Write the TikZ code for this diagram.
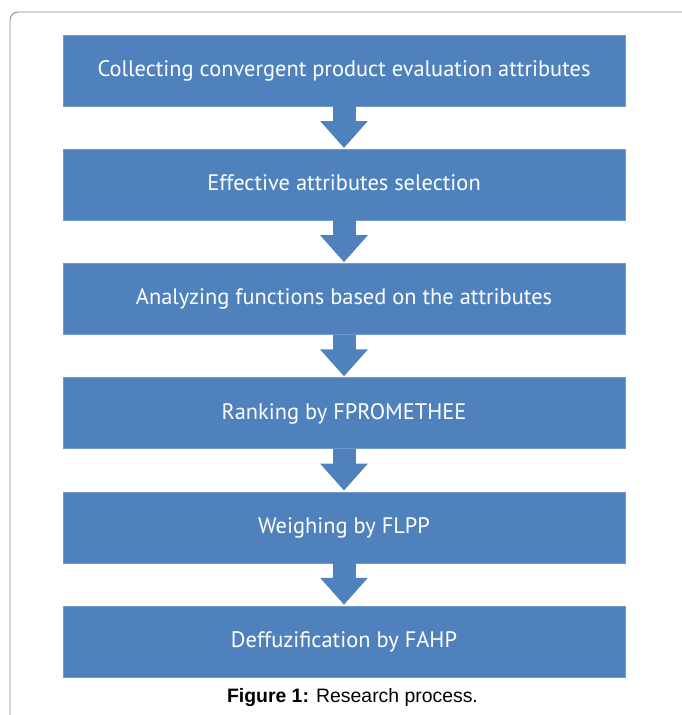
\documentclass[tikz,border=0pt]{standalone}
\usepackage{fontspec}
\setmainfont{Liberation Sans}
\newfontfamily\boxfont{PT Sans}
\usetikzlibrary{positioning,arrows.meta}
\definecolor{stepblue}{HTML}{4F81BD}
\begin{document}
\begin{tikzpicture}[x=1pt,y=-1pt,
        stepbox/.style={rectangle,fill=stepblue,draw=stepblue!80!white,minimum width=562pt,minimum height=71pt,
            inner sep=0pt,text=white,text height=16pt,text depth=4pt,font=\boxfont\fontsize{22.4}{26}\selectfont},
        flow/.style={draw=stepblue,line width=23pt,-{Triangle[width=46pt,length=27pt]},shorten >=1pt}]
        \useasboundingbox (0,0) rectangle (681,715);
        % frame round the figure
        \draw[gray!90,line width=0.9pt,rounded corners=8pt] (10,720) -- (10,12) -- (690,12);

        % the six steps
        \node[stepbox] (s1) at (344,70.5) {Collecting convergent product evaluation attributes};
        \node[stepbox,below=42.8pt of s1] (s2) {Effective attributes selection};
        \node[stepbox,below=42.8pt of s2] (s3) {Analyzing functions based on the attributes};
        \node[stepbox,below=42.8pt of s3] (s4) {Ranking by FPROMETHEE};
        \node[stepbox,below=42.8pt of s4] (s5) {Weighing by FLPP};
        \node[stepbox,below=42.8pt of s5] (s6) {Deffuzification by FAHP};

        \foreach \a/\b in {s1/s2,s2/s3,s3/s4,s4/s5,s5/s6}
            \draw[flow] (\a.south) -- (\b.north);

        \node[font=\fontsize{19.4}{23}\selectfont] (cap) at (352.5,698) {\textbf{Figure 1:} Research process.};
\end{tikzpicture}
\end{document}
